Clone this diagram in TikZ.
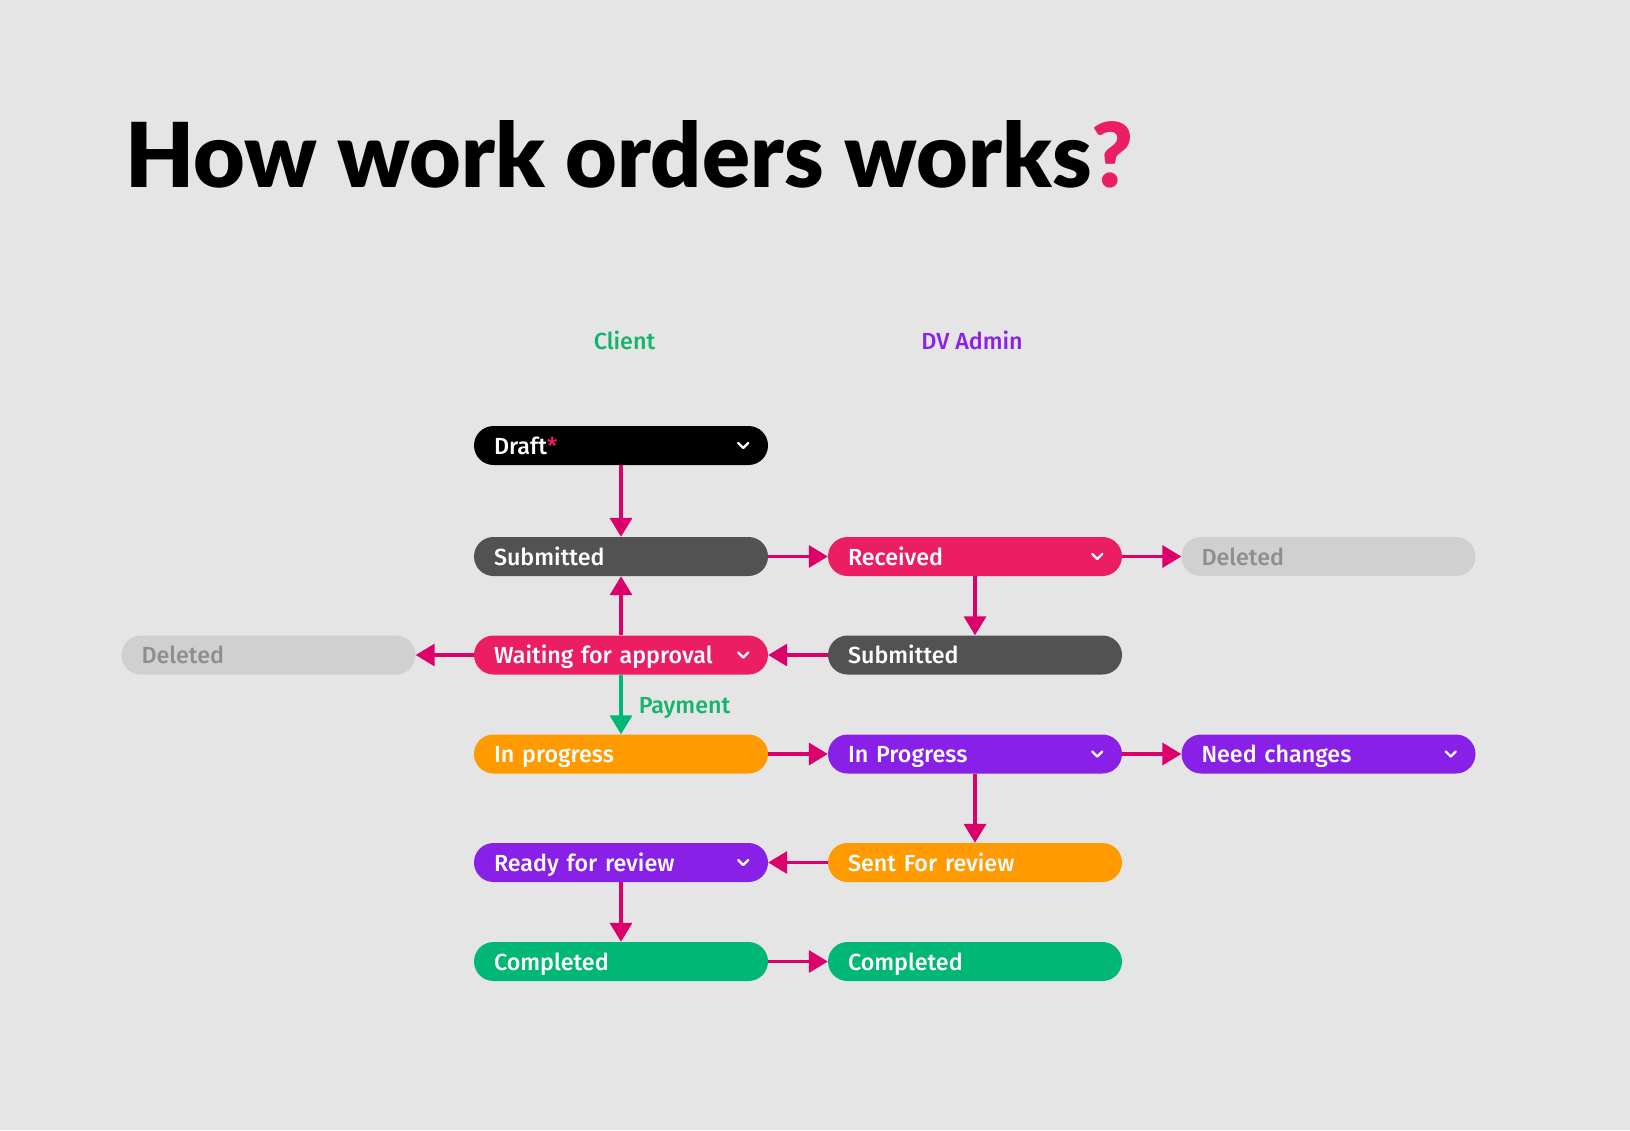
\documentclass[tikz,border=0pt]{standalone}
\usepackage{fontspec}
\setmainfont{Fira Sans Medium}
\newfontfamily\titlefont{Lato Black}
\usetikzlibrary{arrows.meta}
\definecolor{bg}{HTML}{E5E5E5}
\definecolor{pblack}{HTML}{000000}
\definecolor{pgray}{HTML}{525252}
\definecolor{ppink}{HTML}{EB1E63}
\definecolor{plight}{HTML}{D0D0D0}
\definecolor{plighttext}{HTML}{8E8E8E}
\definecolor{porange}{HTML}{FF9A00}
\definecolor{ppurple}{HTML}{8820E8}
\definecolor{pgreen}{HTML}{00B775}
\definecolor{arrc}{HTML}{DC006B}
\definecolor{hgreen}{HTML}{12B46E}
\definecolor{hpurple}{HTML}{8A22E8}
\newcommand\mychev[1]{\draw[white, line width=2.4pt, line cap=round, line join=round] ($(#1.east)+(-30,-2.5)$) -- ++(5,5) -- ++(5,-5);}
\usetikzlibrary{calc}
\begin{document}
\begin{tikzpicture}[x=1pt,y=-1pt,
  pill/.style={rounded corners=19.5pt, minimum height=39pt, text width=254pt, inner xsep=20pt, inner ysep=0pt, align=left, text height=17pt, text depth=0pt, font=\fontsize{23.3}{24}\selectfont, text=white},
  arr/.style={draw=arrc, line width=3.5pt, -{Triangle[length=19pt,width=22pt]}},
  arrg/.style={draw=pgreen, line width=3.5pt, -{Triangle[length=19pt,width=22pt]}},
  hdr/.style={font=\fontsize{23.3}{24}\selectfont, inner sep=0pt, text height=17pt, text depth=0pt}]
\fill[bg] (0,0) rectangle (1630,1130);
\useasboundingbox (0,0) rectangle (1630,1130);
% title
\node[anchor=base west, inner sep=0pt] (title) at (125,187) {\resizebox{1008pt}{67pt}{\titlefont How work orders works\textcolor{ppink}{?}}};
% headers
\node[hdr, text=hgreen] (client) at (624.5,340.5) {Client};
\node[hdr, text=hpurple] (admin) at (972,340.5) {DV Admin};
% client column
\node[pill, fill=pblack] (draft) at (621,445.5) {Draft\textcolor{ppink}{*}};
\node[pill, fill=pgray] (sub) at (621,556.5) {Submitted};
\node[pill, fill=ppink] (wait) at (621,655) {Waiting for approval};
\node[pill, fill=porange] (prog) at (621,754) {In progress};
\node[pill, fill=ppurple] (ready) at (621,862.5) {Ready for review};
\node[pill, fill=pgreen] (comp) at (621,961.5) {Completed};
% admin column
\node[pill, fill=ppink] (rec) at (975,556.5) {Received};
\node[pill, fill=pgray] (asub) at (975,655) {Submitted};
\node[pill, fill=ppurple] (aprog) at (975,754) {In Progress};
\node[pill, fill=porange] (sent) at (975,862.5) {Sent For review};
\node[pill, fill=pgreen] (acomp) at (975,961.5) {Completed};
% side
\node[pill, fill=plight, text=plighttext] (del2) at (1328.5,556.5) {Deleted};
\node[pill, fill=ppurple] (need) at (1328.5,754) {Need changes};
\node[pill, fill=plight, text=plighttext] (del1) at (268.5,655) {Deleted};
% chevrons
\mychev{draft}
\mychev{rec}
\mychev{wait}
\mychev{aprog}
\mychev{need}
\mychev{ready}
% arrows
\draw[arr] (draft.south) -- (sub.north);
\draw[arr] (sub.east) -- (rec.west);
\draw[arr] (rec.east) -- (del2.west);
\draw[arr] (rec.south) -- (asub.north);
\draw[arr] (asub.west) -- (wait.east);
\draw[arr] (wait.west) -- (del1.east);
\draw[arr] (wait.north) -- (sub.south);
\draw[arrg] (wait.south) -- node[hdr, text=hgreen, anchor=west, xshift=16pt] (pay) {Payment} (prog.north);
\draw[arr] (prog.east) -- (aprog.west);
\draw[arr] (aprog.east) -- (need.west);
\draw[arr] (aprog.south) -- (sent.north);
\draw[arr] (sent.west) -- (ready.east);
\draw[arr] (ready.south) -- (comp.north);
\draw[arr] (comp.east) -- (acomp.west);
\end{tikzpicture}
\end{document}
